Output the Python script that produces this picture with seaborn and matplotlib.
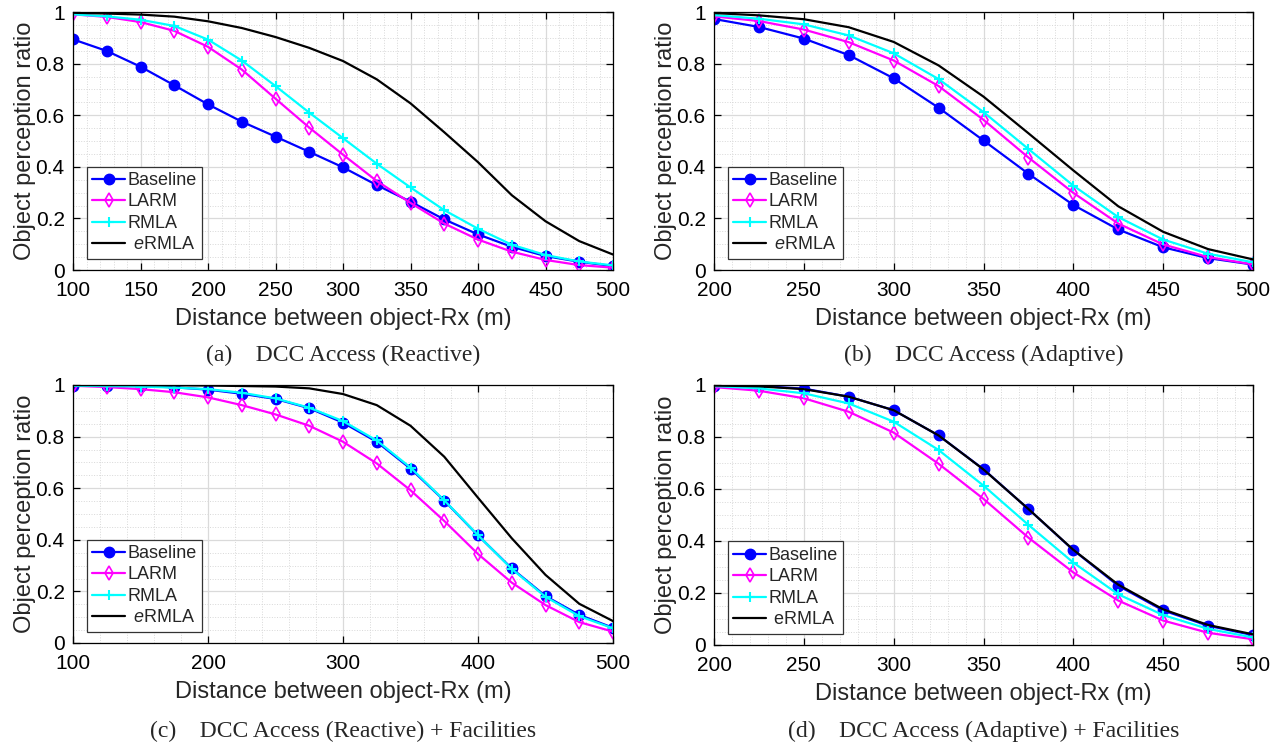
import numpy as np
import pandas as pd
import matplotlib
matplotlib.use("Agg")
import matplotlib.pyplot as plt
from matplotlib.ticker import MultipleLocator, FuncFormatter
import seaborn as sns

# Distances (m)
dist_100 = [100, 125, 150, 175, 200, 225, 250, 275, 300, 325, 350, 375, 400, 425, 450, 475, 500]
dist_200 = [200, 225, 250, 275, 300, 325, 350, 375, 400, 425, 450, 475, 500]

# (a) DCC Access (Reactive)
a_baseline = [0.894, 0.849, 0.788, 0.716, 0.642, 0.575, 0.517, 0.458, 0.398, 0.329, 0.265, 0.196, 0.138, 0.090, 0.054, 0.032, 0.015]
a_larm = [0.991, 0.981, 0.961, 0.927, 0.865, 0.777, 0.664, 0.552, 0.447, 0.345, 0.260, 0.180, 0.118, 0.071, 0.039, 0.019, 0.009]
a_rmla = [0.991, 0.983, 0.970, 0.946, 0.893, 0.812, 0.713, 0.610, 0.511, 0.412, 0.320, 0.232, 0.160, 0.098, 0.058, 0.033, 0.018]
a_ermla = [0.997, 0.994, 0.990, 0.982, 0.964, 0.938, 0.903, 0.861, 0.810, 0.739, 0.646, 0.534, 0.418, 0.290, 0.189, 0.112, 0.060]

# (b) DCC Access (Adaptive)
b_baseline = [0.973, 0.942, 0.897, 0.833, 0.743, 0.629, 0.502, 0.373, 0.252, 0.157, 0.088, 0.046, 0.021]
b_larm = [0.983, 0.965, 0.932, 0.883, 0.812, 0.713, 0.582, 0.436, 0.299, 0.180, 0.099, 0.050, 0.022]
b_rmla = [0.988, 0.974, 0.952, 0.909, 0.840, 0.740, 0.612, 0.469, 0.327, 0.205, 0.118, 0.063, 0.030]
b_ermla = [0.996, 0.987, 0.972, 0.941, 0.884, 0.793, 0.672, 0.530, 0.386, 0.247, 0.148, 0.081, 0.041]

# (c) DCC Access (Reactive) + Facilities
c_baseline = [0.997, 0.997, 0.996, 0.991, 0.982, 0.966, 0.946, 0.910, 0.854, 0.780, 0.676, 0.552, 0.417, 0.289, 0.182, 0.109, 0.059]
c_larm = [0.997, 0.992, 0.984, 0.972, 0.952, 0.922, 0.886, 0.842, 0.780, 0.696, 0.592, 0.473, 0.345, 0.234, 0.147, 0.081, 0.044]
c_rmla = [0.997, 0.996, 0.994, 0.990, 0.984, 0.970, 0.948, 0.912, 0.860, 0.785, 0.680, 0.553, 0.418, 0.287, 0.179, 0.104, 0.057]
c_ermla = [1.000, 1.000, 1.000, 0.999, 0.998, 0.996, 0.994, 0.987, 0.965, 0.922, 0.842, 0.722, 0.563, 0.406, 0.264, 0.152, 0.085]

# (d) DCC Access (Adaptive) + Facilities
d_baseline = [0.997, 0.996, 0.986, 0.955, 0.903, 0.806, 0.676, 0.523, 0.365, 0.228, 0.133, 0.074, 0.038]
d_larm = [0.992, 0.978, 0.949, 0.897, 0.817, 0.697, 0.562, 0.413, 0.279, 0.171, 0.094, 0.047, 0.022]
d_rmla = [0.996, 0.987, 0.968, 0.929, 0.859, 0.750, 0.613, 0.462, 0.317, 0.195, 0.115, 0.062, 0.029]
d_ermla = [0.998, 0.995, 0.984, 0.955, 0.903, 0.806, 0.675, 0.523, 0.366, 0.232, 0.137, 0.077, 0.041]

captions = ["(a)    DCC Access (Reactive)", "(b)    DCC Access (Adaptive)",
            "(c)    DCC Access (Reactive) + Facilities", "(d)    DCC Access (Adaptive) + Facilities"]

sns.set_style("ticks")
plt.rcParams["font.family"] = ["Liberation Sans", "DejaVu Sans"]
plt.rcParams["mathtext.fontset"] = "custom"
plt.rcParams["mathtext.rm"] = "Liberation Sans"
plt.rcParams["mathtext.it"] = "Liberation Sans:italic"

# series styles
styles = {
    "Baseline": dict(color="#0000ff", marker="o", markersize=7.5, markerfacecolor="#0000ff", markeredgecolor="#0000ff", markeredgewidth=1),
    "LARM": dict(color="#ff00ff", marker="d", markersize=7, markerfacecolor="none", markeredgecolor="#ff00ff", markeredgewidth=1.2),
    "RMLA": dict(color="#00ffff", marker="+", markersize=7, markeredgecolor="#00ffff", markeredgewidth=1.5),
    "eRMLA": dict(color="black", marker=None),
}

panels = [
    (dist_100, [a_baseline, a_larm, a_rmla, a_ermla], 50, 10, True),
    (dist_200, [b_baseline, b_larm, b_rmla, b_ermla], 50, 10, True),
    (dist_100, [c_baseline, c_larm, c_rmla, c_ermla], 100, 20, True),
    (dist_200, [d_baseline, d_larm, d_rmla, d_ermla], 50, 10, False),
]

rects = [
    [73 / 1283, 476 / 746, 540 / 1283, 258 / 746],
    [714 / 1283, 476 / 746, 539 / 1283, 258 / 746],
    [73 / 1283, 103 / 746, 540 / 1283, 258 / 746],
    [714 / 1283, 101 / 746, 539 / 1283, 260 / 746],
]

fig = plt.figure(figsize=(12.83, 7.46), dpi=100)

for i, (dist, series, major, minor, italic_e) in enumerate(panels):
    ax = fig.add_axes(rects[i])
    names = ["Baseline", "LARM", "RMLA", "eRMLA"]
    for name, vals in zip(names, series):
        label = name
        if name == "eRMLA":
            label = r" $\mathit{e}$RMLA" if italic_e else " eRMLA"
        sns.lineplot(x=dist, y=vals, ax=ax, label=label, linewidth=1.6, **styles[name])

    ax.set_xlim(dist[0], dist[-1])
    ax.set_ylim(0, 1)
    ax.xaxis.set_major_locator(MultipleLocator(major))
    ax.xaxis.set_minor_locator(MultipleLocator(minor))
    ax.yaxis.set_major_locator(MultipleLocator(0.2))
    ax.yaxis.set_minor_locator(MultipleLocator(0.05))
    ax.yaxis.set_major_formatter(FuncFormatter(lambda v, p: "%g" % round(v, 2)))
    ax.grid(which="major", color="#dadada", linewidth=0.9, linestyle="-")
    ax.grid(which="minor", color="#d8d8d8", linewidth=0.7, linestyle=":")
    ax.set_axisbelow(True)
    ax.tick_params(which="major", direction="in", length=5, width=0.9, top=True, right=True,
                   labelsize=15, colors="black")
    ax.tick_params(axis="x", which="major", pad=8)
    ax.tick_params(axis="y", which="major", pad=6)
    ax.tick_params(which="minor", length=0)
    for s in ax.spines.values():
        s.set_color("black")
        s.set_linewidth(0.9)
    ax.set_xlabel("Distance between object-Rx (m)", fontsize=17, labelpad=6)
    ax.set_ylabel("Object perception ratio", fontsize=17, labelpad=0)

    leg = ax.legend(loc="lower left", bbox_to_anchor=(0.026, 0.043), borderaxespad=0,
                    fontsize=13, frameon=True, fancybox=False, edgecolor="#333333",
                    framealpha=1, handlelength=1.8, handletextpad=0.15, labelspacing=0.25,
                    borderpad=0.3)
    leg.get_frame().set_linewidth(0.9)

    bb = rects[i]
    cap_y = 0.5241 if i < 2 else 0.0201
    fig.text(bb[0] + bb[2] / 2, cap_y, captions[i], ha="center", va="center",
             fontsize=17, family=["Liberation Serif", "DejaVu Serif"])

fig.savefig("out.png", dpi=100)
